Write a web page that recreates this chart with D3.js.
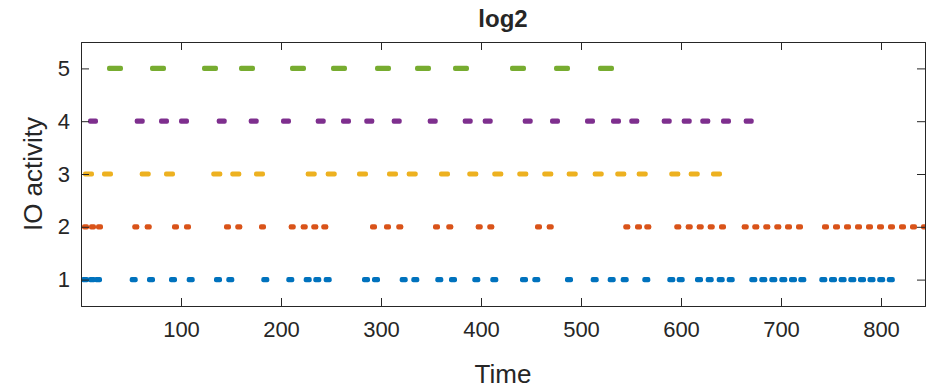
<!DOCTYPE html>
<html>
<head>
<meta charset="utf-8">
<script src="https://cdn.jsdelivr.net/npm/d3@7"></script>
<style>
  body { margin:0; background:#fff; }
  text { font-family: "Liberation Sans", Arial, sans-serif; fill:#262626; }
</style>
</head>
<body>
<div id="chart"></div>
<script>
// start times of each IO event, one array per activity level
const level1 = [0, 7, 13, 48.7, 66, 88, 105.7, 133, 145.3, 180.3, 205.3, 222.7, 232.3, 242.7, 281, 291, 318.7, 330.3, 354.3, 368, 391.3, 409.3,
  439, 451.3, 484, 509.7, 526.7, 539.7, 561.3, 586.3, 595.7, 614, 624.7, 635.7, 645.7, 668.3, 678.3, 688.3, 698.3, 708, 717.3,
  738.3, 748, 757.6, 767.3, 777, 786.5, 796.2, 805.8]
const level2 = [1, 8, 15, 51.3, 63.7, 91, 103, 143, 154.3, 178, 207.7, 219.7, 230.3, 240.3, 289, 303, 315.3, 352, 365.3, 394.7, 406.3,
  454, 465.7, 542.3, 554, 563.3, 593.3, 604.7, 615.7, 626.7, 638, 660.7, 671.3, 682.3, 693.3, 704, 715,
  741, 752, 763, 774, 785, 796, 807, 818, 829, 840]
const level3 = [2, 21, 58.7, 83, 130.3, 149.3, 173, 224.7, 244.7, 276, 306, 325.7, 358, 386.3, 411.3,
  436.3, 461.3, 485.7, 511.7, 534.3, 555.7, 588.3, 607.7, 630]
const level4 = [7, 53.7, 78, 98, 135.7, 167.7, 200, 234.7, 260, 283.3, 310.7, 346.7, 381.7, 401.7,
  441.7, 469, 504, 530, 548.3, 580.7, 600.7, 619.3, 640, 662.7]
const level5 = [26, 69, 121, 158, 209, 250, 294, 334, 372, 429, 473, 517]
// event durations
const durations = [8, 7, 11, 10, 16]
const colors = ["#0072BD", "#D95319", "#EDB120", "#7E2F8E", "#77AC30"]
const xTicks = [100, 200, 300, 400, 500, 600, 700, 800]
const yTicks = [1, 2, 3, 4, 5]

let size = {width:930, height:388}
let margin = {top:42, right:5, bottom:82, left:81}
let w = size.width - margin.left - margin.right
let h = size.height - margin.top - margin.bottom

const xScale = d3.scaleLinear().domain([0, 844]).range([0, w])
const yScale = d3.scaleLinear().domain([0.5, 5.5]).range([h, 0])

const svg = d3.select("#chart").append("svg").attr("width", size.width).attr("height", size.height)
svg.append("defs").append("clipPath").attr("id", "clip")
  .append("rect").attr("width", w).attr("height", h)

let g = svg.append("g").attr("transform", `translate(${margin.left},${margin.top})`)

const rows = [level1, level2, level3, level4, level5]
let marks = g.append("g").attr("clip-path", "url(#clip)")
rows.forEach((starts, i) => {
  marks.selectAll(null).data(starts).enter().append("rect")
    .attr("x", d => xScale(d))
    .attr("width", d => xScale(d + durations[i]) - xScale(d))
    .attr("y", yScale(i + 1) - 2.6)
    .attr("height", 5.2)
    .attr("rx", 2)
    .attr("fill", colors[i])
})

// axes, ticks inside like matlab
const tk = 8
let xAxis = g.append("g").attr("transform", `translate(0,${h})`)
  .call(d3.axisBottom(xScale).tickValues(xTicks).tickSize(-tk).tickPadding(15))
let xTop = g.append("g").call(d3.axisTop(xScale).tickValues(xTicks).tickSize(-tk).tickFormat(""))
let yAxis = g.append("g").call(d3.axisLeft(yScale).tickValues(yTicks).tickSize(-tk).tickPadding(11).tickFormat(d3.format("d")))
let yRight = g.append("g").attr("transform", `translate(${w},0)`)
  .call(d3.axisRight(yScale).tickValues(yTicks).tickSize(-tk).tickFormat(""))

g.selectAll(".domain").attr("stroke", "#262626").attr("stroke-width", 1)
g.selectAll(".tick line").attr("stroke", "#262626")
g.selectAll(".tick text").attr("font-size", 22).style("fill", "#262626")
  .attr("font-family", "Liberation Sans, Arial, sans-serif")

svg.append("text").attr("x", margin.left + w / 2).attr("y", 27)
  .attr("text-anchor", "middle").attr("font-size", 24).attr("font-weight", "bold").text("log2")
svg.append("text").attr("x", margin.left + w / 2).attr("y", 383)
  .attr("text-anchor", "middle").attr("font-size", 26).text("Time")
svg.append("text").attr("transform", `translate(42,${margin.top + h / 2}) rotate(-90)`)
  .attr("text-anchor", "middle").attr("font-size", 26).text("IO activity")
</script>
</body>
</html>
